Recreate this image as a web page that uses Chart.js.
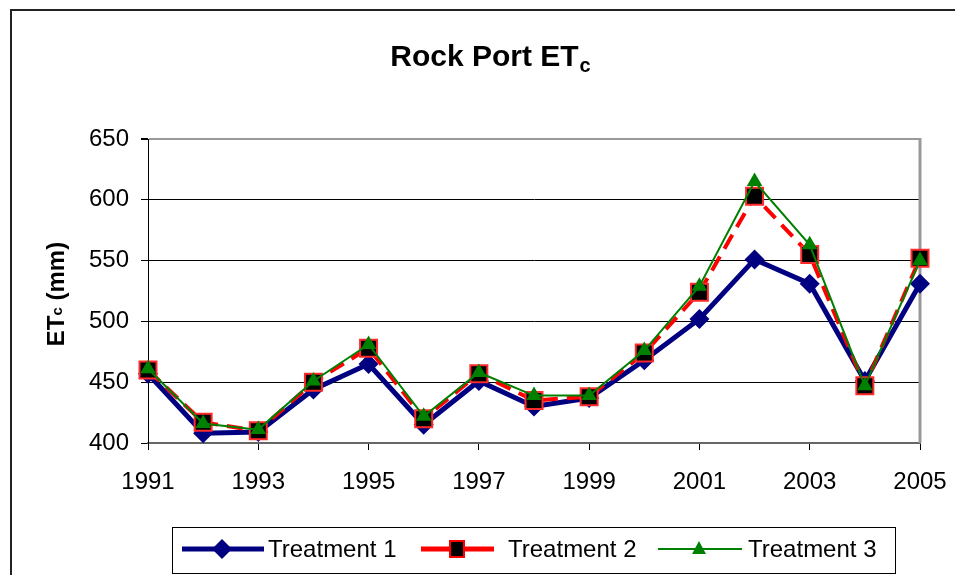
<!DOCTYPE html>
<html>
<head>
<meta charset="utf-8">
<script src="https://cdn.jsdelivr.net/npm/chart.js@4"></script>
<style>
  html, body { margin: 0; padding: 0; background: #fff; }
  #wrap { width: 955px; height: 575px; }
</style>
</head>
<body>
<div id="wrap"><canvas id="chart" width="955" height="575"></canvas></div>
<script>
// data
const years = [1991, 1992, 1993, 1994, 1995, 1996, 1997, 1998, 1999, 2000, 2001, 2002, 2003, 2004, 2005];
const treatment1 = [457, 408, 409, 444, 465, 415, 451, 430, 437, 468, 502, 551, 531, 451, 531];
const treatment2 = [460, 417, 410, 450, 478, 420, 457, 435, 438, 474, 524, 603, 555, 447, 552];
const treatment3 = [461, 416, 411, 451, 481, 422, 458, 439, 439, 476, 529, 615, 563, 447, 550];
const seriesNames = ['Treatment 1', 'Treatment 2', 'Treatment 3'];
const xTickYears = [1991, 1993, 1995, 1997, 1999, 2001, 2003, 2005];
const yTickValues = [400, 450, 500, 550, 600, 650];

const FONT = '"Liberation Sans", Arial, Helvetica, sans-serif';

const toPoints = vals => vals.map((v, i) => ({ x: years[i], y: v }));

// little helper for the legend symbols
function drawMarker(ctx, kind, x, y) {
  ctx.save();
  if (kind === 'diamond') {
    ctx.fillStyle = '#000080';
    ctx.beginPath();
    ctx.moveTo(x, y - 10); ctx.lineTo(x + 10, y); ctx.lineTo(x, y + 10); ctx.lineTo(x - 10, y);
    ctx.closePath(); ctx.fill();
  } else if (kind === 'square') {
    ctx.fillStyle = '#000';
    ctx.strokeStyle = '#ff0000';
    ctx.lineWidth = 2;
    ctx.fillRect(x - 7, y - 8, 14, 16);
    ctx.strokeRect(x - 7, y - 8, 14, 16);
  } else {
    ctx.fillStyle = '#008000';
    ctx.beginPath();
    ctx.moveTo(x, y - 8); ctx.lineTo(x + 7, y + 5); ctx.lineTo(x - 7, y + 5);
    ctx.closePath(); ctx.fill();
  }
  ctx.restore();
}

const decorations = {
  id: 'decorations',
  beforeDatasetsDraw(chart) {
    const { ctx, chartArea: a } = chart;
    ctx.save();
    ctx.strokeStyle = '#999';
    ctx.lineWidth = 3;
    ctx.beginPath();
    ctx.moveTo(a.right, a.top - 1);
    ctx.lineTo(a.right, a.bottom);
    ctx.stroke();
    ctx.restore();
  },
  afterDraw(chart) {
    const { ctx } = chart;
    ctx.save();

    // outer frame (only top and left edges show)
    ctx.strokeStyle = '#222';
    ctx.lineWidth = 2;
    ctx.beginPath();
    ctx.moveTo(11, 580);
    ctx.lineTo(11, 10);
    ctx.lineTo(960, 10);
    ctx.stroke();

    // title with subscript c
    ctx.fillStyle = '#000';
    ctx.textBaseline = 'alphabetic';
    ctx.textAlign = 'left';
    ctx.font = 'bold 30px ' + FONT;
    const main = 'Rock Port ET';
    const w1 = ctx.measureText(main).width;
    ctx.font = 'bold 20px ' + FONT;
    const w2 = ctx.measureText('c').width;
    let tx = 490 - (w1 + w2) / 2;
    ctx.font = 'bold 30px ' + FONT;
    ctx.fillText(main, tx, 66);
    ctx.font = 'bold 20px ' + FONT;
    ctx.fillText('c', tx + w1 + 1, 72);

    // y axis title
    ctx.save();
    ctx.translate(64, 294);
    ctx.rotate(-Math.PI / 2);
    ctx.font = 'bold 24px ' + FONT;
    const yMain = 'ET';
    const yRest = ' (mm)';
    const wa = ctx.measureText(yMain).width;
    const wc = (ctx.font = 'bold 15px ' + FONT, ctx.measureText('c').width);
    ctx.font = 'bold 24px ' + FONT;
    const wr = ctx.measureText(yRest).width;
    let sx = -(wa + wc + wr) / 2;
    ctx.fillText(yMain, sx, 0);
    ctx.font = 'bold 15px ' + FONT;
    ctx.fillText('c', sx + wa, -2);
    ctx.font = 'bold 24px ' + FONT;
    ctx.fillText(yRest, sx + wa + wc, 0);
    ctx.restore();

    // legend
    ctx.strokeStyle = '#000';
    ctx.lineWidth = 1;
    ctx.strokeRect(172.5, 527.5, 723, 46);
    const ly = 549;
    const items = [
      { line: [182, 264], marker: 'diamond', mx: 222, color: '#000080', width: 5, tx: 268 },
      { line: [421, 494], marker: 'square', mx: 457, color: '#ff0000', width: 5, tx: 508 },
      { line: [658, 742], marker: 'triangle', mx: 699, color: '#008000', width: 2, tx: 748 }
    ];
    ctx.font = '24px ' + FONT;
    ctx.textBaseline = 'middle';
    items.forEach((it, i) => {
      ctx.save();
      ctx.strokeStyle = it.color;
      ctx.lineWidth = it.width;
      ctx.beginPath();
      ctx.moveTo(it.line[0], ly);
      ctx.lineTo(it.line[1], ly);
      ctx.stroke();
      ctx.restore();
      drawMarker(ctx, it.marker, it.mx, ly);
      ctx.fillStyle = '#000';
      ctx.fillText(seriesNames[i], it.tx, ly + 1);
    });

    ctx.restore();
  }
};

new Chart(document.getElementById('chart'), {
  type: 'line',
  data: {
    datasets: [
      {
        label: seriesNames[0],
        data: toPoints(treatment1),
        borderColor: '#000080',
        backgroundColor: '#000080',
        borderWidth: 5,
        pointStyle: 'rectRot',
        pointRadius: 10,
        pointBorderWidth: 0,
        pointBackgroundColor: '#000080',
        clip: false,
        order: 3
      },
      {
        label: seriesNames[1],
        data: toPoints(treatment2),
        borderColor: '#ff0000',
        borderWidth: 4,
        borderDash: [16, 9],
        pointStyle: 'rect',
        pointRadius: 12,
        pointBorderWidth: 2,
        pointBorderColor: '#ff2a2a',
        pointBackgroundColor: '#000',
        clip: false,
        order: 2
      },
      {
        label: seriesNames[2],
        data: toPoints(treatment3),
        borderColor: '#008000',
        borderWidth: 2,
        pointStyle: 'triangle',
        pointRadius: 9,
        pointBorderWidth: 0,
        pointBackgroundColor: '#008000',
        clip: false,
        order: 1
      }
    ]
  },
  options: {
    responsive: false,
    devicePixelRatio: 1,
    animation: false,
    layout: { autoPadding: false, padding: { top: 139, right: 35, left: 0, bottom: 0 } },
    plugins: {
      legend: { display: false },
      title: { display: false },
      tooltip: { enabled: false }
    },
    elements: { line: { tension: 0 } },
    scales: {
      x: {
        type: 'linear',
        min: 1991,
        max: 2005,
        afterBuildTicks: s => { s.ticks = xTickYears.map(v => ({ value: v })); },
        afterFit: s => { s.height = 132; s.paddingLeft = 0; s.paddingRight = 0; },
        ticks: {
          color: '#000',
          font: { family: FONT, size: 24 },
          padding: 18,
          maxRotation: 0,
          autoSkip: false,
          callback: v => String(v)
        },
        grid: { drawOnChartArea: false, drawTicks: true, tickLength: 7, color: '#000' },
        border: { color: '#666', width: 2 }
      },
      y: {
        min: 400,
        max: 650,
        afterBuildTicks: s => { s.ticks = yTickValues.map(v => ({ value: v })); },
        afterFit: s => { s.width = 148; },
        ticks: {
          color: '#000',
          font: { family: FONT, size: 24 },
          padding: 12,
          callback: v => String(v)
        },
        grid: {
          color: c => (c.tick && c.tick.value === 650 ? '#999' : '#000'),
          lineWidth: c => (c.tick && c.tick.value === 650 ? 2 : 1),
          tickColor: '#000',
          tickLength: 7
        },
        border: { color: '#000', width: 1 }
      }
    }
  },
  plugins: [decorations]
});
</script>
</body>
</html>
